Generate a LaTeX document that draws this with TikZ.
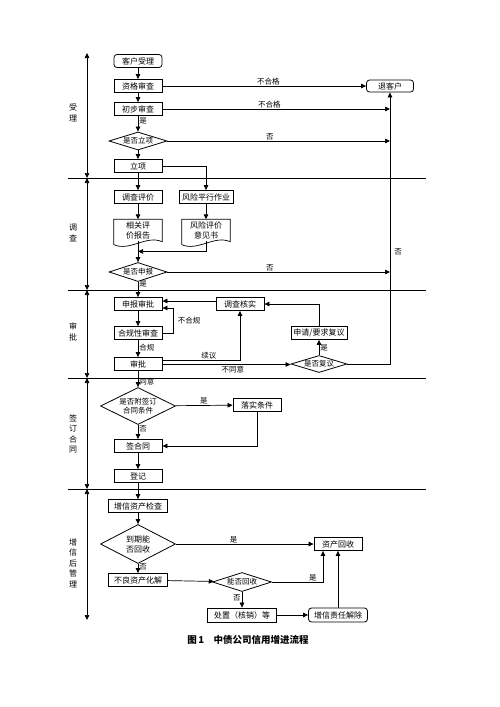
\documentclass[tikz,border=0pt]{standalone}
\usepackage{fontspec}
\setmainfont{Noto Sans CJK SC}
\usetikzlibrary{shapes.geometric,arrows.meta,calc}
\begin{document}
\begin{tikzpicture}[x=1pt,y=-1pt,
 every node/.style={font=\fontsize{8}{10}\selectfont},
 box/.style={draw,line width=0.8pt,minimum width=48pt,minimum height=13pt,inner sep=0pt},
 rbox/.style={box,rounded corners=3pt},
 dia/.style={draw,diamond,line width=0.8pt,inner sep=0pt,align=center,aspect=3.2,font=\fontsize{7.5}{9}\selectfont},
 dia2/.style={dia,aspect=2},
 docnode/.style={minimum width=48pt,minimum height=21pt,inner sep=0pt,align=center},
 lbl/.style={font=\fontsize{7.5}{9}\selectfont,inner sep=1pt},
 side/.style={font=\fontsize{8}{10.5}\selectfont,align=center,inner sep=0pt},
 arr/.style={-{Triangle[length=5pt,width=4.5pt]},line width=0.7pt},
 darr/.style={{Triangle[length=5pt,width=4.5pt]}-{Triangle[length=5pt,width=4.5pt]},line width=0.7pt},
 ln/.style={line width=0.7pt},
]
\useasboundingbox (0,0) rectangle (500,707);

% separators
\foreach \yy in {178,290,378,489} {\draw[ln] (68,\yy) -- (426,\yy);}
\draw[darr] (87,53) -- (87,178);
\draw[darr] (87,178) -- (87,290);
\draw[darr] (87,290) -- (87,378);
\draw[darr] (87,378) -- (87,489);
\draw[darr] (87,489) -- (87,620);

% side labels
\node[side] (s1) at (73,113) {受\\理};
\node[side] (s2) at (73,233) {调\\查};
\node[side] (s3) at (73,332) {审\\批};
\node[side] (s4) at (73,434) {签\\订\\合\\同};
\node[side] (s5) at (73,563) {增\\信\\后\\管\\理};

% section 1
\node[rbox] (kh) at (138,61) {客户受理};
\node[box] (zg) at (138,86) {资格审查};
\node[box] (cb) at (138,109) {初步审查};
\node[dia,minimum width=58pt,minimum height=18pt] (lxd) at (138,141) {是否立项};
\node[box] (lx) at (138,166) {立项};
\node[rbox,minimum width=47pt,minimum height=12pt] (tk) at (390,86) {退客户};

% section 2
\node[box] (dc) at (138,197) {调查评价};
\node[box,minimum width=54pt] (fx) at (206,197) {风险平行作业};
\node[docnode] (bg) at (138,230) {相关评\\价报告};
\node[docnode] (yj) at (206,230) {风险评价\\意见书};
\foreach \n in {bg,yj} {
 \draw[ln] (\n.north west) -- (\n.north east) -- ($(\n.south east)+(0,1)$)
   .. controls +(-16,-7) and +(16,7) .. ($(\n.south west)+(0,4)$) -- cycle;
}
\node[dia,minimum width=58pt,minimum height=19pt] (sbd) at (138,272) {是否申报};

% section 3
\node[box] (sp) at (138,304) {申报审批};
\node[box] (hc) at (240,304) {调查核实};
\node[box] (hg) at (138,333) {合规性审查};
\node[box] (spb) at (138,364) {审批};
\node[box,minimum width=56pt] (fy) at (319,333) {申请/要求复议};
\node[dia,minimum width=56pt,minimum height=17pt] (fyd) at (319,364) {是否复议};

% section 4
\node[dia2,minimum width=75pt,minimum height=37pt] (htd) at (138,406) {是否附签订\\合同条件};
\node[box] (ls) at (257,405) {落实条件};
\node[box] (qht) at (138,446) {签合同};
\node[box] (dj) at (138,476) {登记};

% section 5
\node[box,minimum width=59pt] (zx) at (138,506) {增信资产检查};
\node[dia2,minimum width=75pt,minimum height=39pt,font=\fontsize{8}{10}\selectfont] (dqd) at (138,544) {到期能\\否回收};
\node[box] (zh) at (338,544) {资产回收};
\node[box,minimum width=59pt] (bl) at (138,580) {不良资产化解};
\node[dia,minimum width=59pt,minimum height=19pt] (nfd) at (242,582) {能否回收};
\node[box,minimum width=69pt,minimum height=14pt] (cz) at (242,615) {处置（核销）等};
\node[rbox,minimum width=59pt,minimum height=14pt] (zr) at (338,615) {增信责任解除};

% connectors section 1
\draw[arr] (kh) -- (zg);
\draw[arr] (zg) -- (cb);
\draw[arr] (cb) -- node[lbl,right,pos=0.3] {是} (lxd);
\draw[arr] (lxd) -- (lx);
\draw[arr] (zg.east) -- node[lbl,above,pos=0.52] {不合格} (tk.west);
\draw[arr] (cb.east) -- node[lbl,above,pos=0.47] {不合格} (cb.east -| tk.south);
\draw[arr] (lxd.east) -- node[lbl,above,pos=0.46] {否} (lxd.east -| tk.south);
\draw[arr] (fyd.east) -| (tk.south);
\node[lbl] (fou1) at (398,252) {否};

% section 2
\draw[arr] (lx) -- (dc);
\draw[arr] (lx.east) -| (fx.north);
\draw[arr] (dc) -- (bg);
\draw[arr] (fx) -- (yj);
\draw[arr] (bg.south) -- (sbd.north);
\draw[arr] (yj.south) |- ($(bg.south)!0.5!(sbd.north)$);
\draw[arr] (sbd.east) -- node[lbl,above,pos=0.46] {否} (sbd.east -| tk.south);
\draw[arr] (sbd) -- node[lbl,right,pos=0.15] {是} (sp);

% section 3
\draw[arr] (sp) -- (hg);
\draw[arr] (hg) -- node[lbl,right,pos=0.45] {合规} (spb);
\draw[arr] (hg.east) -- ++(11,0) |- ($(sp.east)+(0,4)$);
\node[lbl] (bhg) at (189,321) {不合规};
\draw[arr] ($(hc.west)+(0,-3)$) -- ($(sp.east)+(0,-3)$);
\draw[arr] ($(spb.east)+(0,-4)$) -| node[lbl,above,pos=0.3] {续议} (hc.south);
\draw[arr] ($(spb.east)+(0,0.5)$) -- node[lbl,below,pos=0.55] {不同意} ($(fyd.west)+(0,0.5)$);
\draw[arr] (fyd) -- node[lbl,right,pos=0.5] {是} (fy);
\draw[arr] (fy.north) |- (hc.east);

% section 4
\draw[arr] (spb) -- node[lbl,right,pos=0.68] {同意} (htd);
\draw[arr] (htd) -- node[lbl,above,pos=0.5] {是} (ls);
\draw[arr] (htd) -- node[lbl,right,pos=0.3] {否} (qht);
\draw[arr] (ls.south) |- (qht.east);
\draw[arr] (qht) -- (dj);

% section 5
\draw[arr] (dj) -- (zx);
\draw[arr] (zx) -- (dqd);
\draw[arr] (dqd) -- node[lbl,above,pos=0.42] {是} (zh);
\draw[arr] (dqd) -- node[lbl,right,pos=0.3] {否} (bl);
\draw[arr] (bl) -- (nfd);
\draw[arr] (nfd.east) -| node[lbl,above,pos=0.4] {是} ($(zh.south)+(-15,0)$);
\draw[arr] (nfd) -- node[lbl,left,pos=0.35] {否} (cz);
\draw[arr] (cz) -- (zr);
\draw[arr] (zr) -- (zh);

\node[font=\fontsize{9.5}{11}\selectfont\bfseries] (cap) at (248,640) {图\,1\quad 中债公司信用增进流程};
\end{tikzpicture}
\end{document}
